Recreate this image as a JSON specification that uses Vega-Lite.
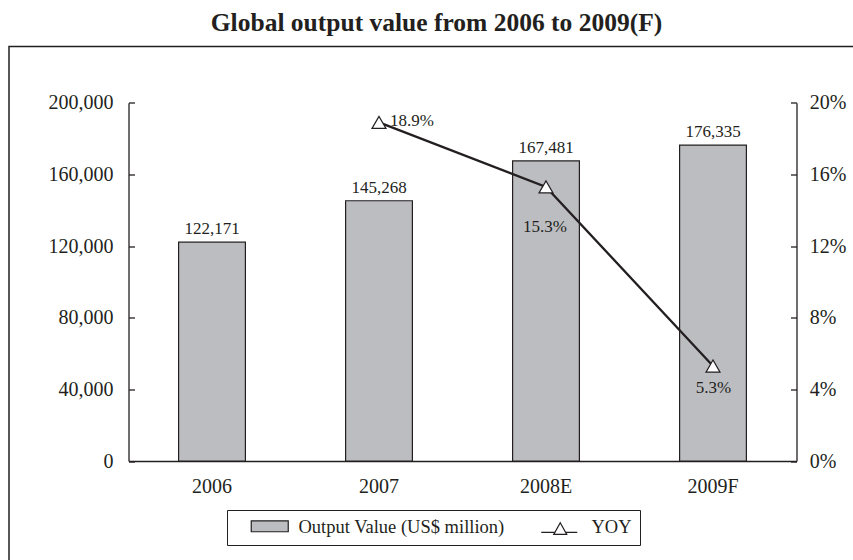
{
  "$schema": "https://vega.github.io/schema/vega-lite/v6.json",
  "autosize": "none",
  "padding": {"left": 9, "top": 46.5, "right": 0, "bottom": 0},
  "width": 850,
  "height": 520,
  "background": "white",
  "title": {
    "text": "Global output value from 2006 to 2009(F)",
    "font": "Liberation Serif",
    "fontSize": 25.5,
    "fontWeight": "bold",
    "color": "#231f20",
    "anchor": "middle",
    "baseline": "alphabetic",
    "offset": 14,
    "dx": 2.5,
    "dy": 24
  },
  "data": {
    "values": [
      {"year": "2006", "value": 122171, "yoy": null},
      {"year": "2007", "value": 145268, "yoy": 0.189},
      {"year": "2008E", "value": 167481, "yoy": 0.153},
      {"year": "2009F", "value": 176335, "yoy": 0.053}
    ]
  },
  "layer": [
    {
      "layer": [
        {
          "mark": {"type": "bar", "stroke": "#231f20", "strokeWidth": 1.2},
          "encoding": {
            "x": {
              "field": "year", "type": "ordinal", "sort": null,
              "scale": {"range": [119.5, 787.5], "paddingInner": 0.6, "paddingOuter": 0.3},
              "axis": {
                "orient": "bottom", "offset": -105.5, "ticks": false, "labelPadding": 15,
                "labelAngle": 0, "title": null, "domainColor": "#231f20", "domainWidth": 1.3,
                "labelFont": "Liberation Serif", "labelFontSize": 20, "labelColor": "#231f20", "grid": false
              }
            },
            "y": {
              "field": "value", "type": "quantitative",
              "scale": {"domain": [0, 200000], "range": [414.5, 56.2], "nice": false, "zero": true},
              "axis": {
                "orient": "left", "offset": -119.5,
                "values": [0, 40000, 80000, 120000, 160000, 200000], "format": ",.0f",
                "tickSize": -6, "labelPadding": 21.5, "title": null,
                "domainColor": "#231f20", "domainWidth": 1.3, "tickColor": "#231f20", "tickWidth": 1.3,
                "labelFont": "Liberation Serif", "labelFontSize": 20, "labelColor": "#231f20", "grid": false
              }
            },
            "fill": {
              "datum": "Output Value (US$ million)", "type": "nominal",
              "scale": {"domain": ["Output Value (US$ million)", "YOY"], "range": ["#bcbdc1", "#ffffff"]},
              "legend": {
                "orient": "none", "legendX": 218, "legendY": 463.5, "direction": "horizontal",
                "title": null, "strokeColor": "#231f20", "padding": 8,
                "symbolSize": 144, "labelOffset": 45, "columnPadding": 23, "labelLimit": 400,
                "labelFont": "Liberation Serif", "labelFontSize": 18.5, "labelColor": "#231f20",
                "symbolStrokeColor": "#231f20", "symbolStrokeWidth": 1.2,
                "labelExpr": "datum.label === 'YOY' ? 'YOY\u00a0\u00a0' : datum.label",
                "encode": {
                  "symbols": {
                    "update": {
                      "shape": {"signal": "datum.value === 'YOY' ? 'M0.667,0.833H2.936M4.73,0.833H6.667M3.833,-0.767L4.917,1.167H2.75Z' : 'M1.167,-1.1H7.333V0.733H1.167Z'"},
                      "size": {"value": 144},
                      "stroke": {"value": "#231f20"},
                      "strokeWidth": {"value": 1.2}
                    }
                  }
                }
              }
            }
          }
        },
        {
          "mark": {"type": "text", "font": "Liberation Serif", "fontSize": 17, "color": "#231f20", "baseline": "alphabetic", "align": "center", "dy": -8},
          "encoding": {
            "x": {"field": "year", "type": "ordinal", "sort": null},
            "y": {"field": "value", "type": "quantitative"},
            "text": {"field": "value", "type": "quantitative", "format": ",.0f"}
          }
        }
      ]
    },
    {
      "transform": [{"filter": "datum.yoy != null"}],
      "layer": [
        {
          "mark": {"type": "line", "color": "#231f20", "strokeWidth": 2.3},
          "encoding": {
            "x": {"field": "year", "type": "ordinal", "sort": null},
            "y": {
              "field": "yoy", "type": "quantitative",
              "scale": {"domain": [0, 0.2], "range": [414.5, 56.2], "nice": false, "zero": true},
              "axis": {
                "orient": "right", "offset": -62.5,
                "values": [0, 0.04, 0.08, 0.12, 0.16, 0.2], "format": ".0%",
                "tickSize": -6, "labelPadding": 18.7, "title": null,
                "domainColor": "#231f20", "domainWidth": 1.3, "tickColor": "#231f20", "tickWidth": 1.3,
                "labelFont": "Liberation Serif", "labelFontSize": 20, "labelColor": "#231f20", "grid": false
              }
            }
          }
        },
        {
          "mark": {"type": "point", "shape": "triangle-up", "size": 196, "filled": true, "stroke": "#231f20", "strokeWidth": 1.2, "opacity": 1},
          "encoding": {
            "x": {"field": "year", "type": "ordinal", "sort": null},
            "y": {"field": "yoy", "type": "quantitative"},
            "fill": {"datum": "YOY", "type": "nominal"}
          }
        },
        {
          "transform": [{"filter": "datum.year === '2007'"}],
          "mark": {"type": "text", "font": "Liberation Serif", "fontSize": 17, "color": "#231f20", "baseline": "middle", "align": "left", "dx": 11, "dy": -1},
          "encoding": {
            "x": {"field": "year", "type": "ordinal", "sort": null},
            "y": {"field": "yoy", "type": "quantitative"},
            "text": {"field": "yoy", "type": "quantitative", "format": ".1%"}
          }
        },
        {
          "transform": [{"filter": "datum.year === '2008E'"}],
          "mark": {"type": "text", "font": "Liberation Serif", "fontSize": 17, "color": "#231f20", "baseline": "middle", "align": "center", "dx": -1, "dy": 40.5},
          "encoding": {
            "x": {"field": "year", "type": "ordinal", "sort": null},
            "y": {"field": "yoy", "type": "quantitative"},
            "text": {"field": "yoy", "type": "quantitative", "format": ".1%"}
          }
        },
        {
          "transform": [{"filter": "datum.year === '2009F'"}],
          "mark": {"type": "text", "font": "Liberation Serif", "fontSize": 17, "color": "#231f20", "baseline": "middle", "align": "center", "dx": 0.5, "dy": 22},
          "encoding": {
            "x": {"field": "year", "type": "ordinal", "sort": null},
            "y": {"field": "yoy", "type": "quantitative"},
            "text": {"field": "yoy", "type": "quantitative", "format": ".1%"}
          }
        }
      ]
    }
  ],
  "resolve": {"scale": {"y": "independent"}},
  "config": {
    "view": {"stroke": "#231f20", "strokeWidth": 1.5},
    "font": "Liberation Serif",
    "axis": {"grid": false}
  }
}
